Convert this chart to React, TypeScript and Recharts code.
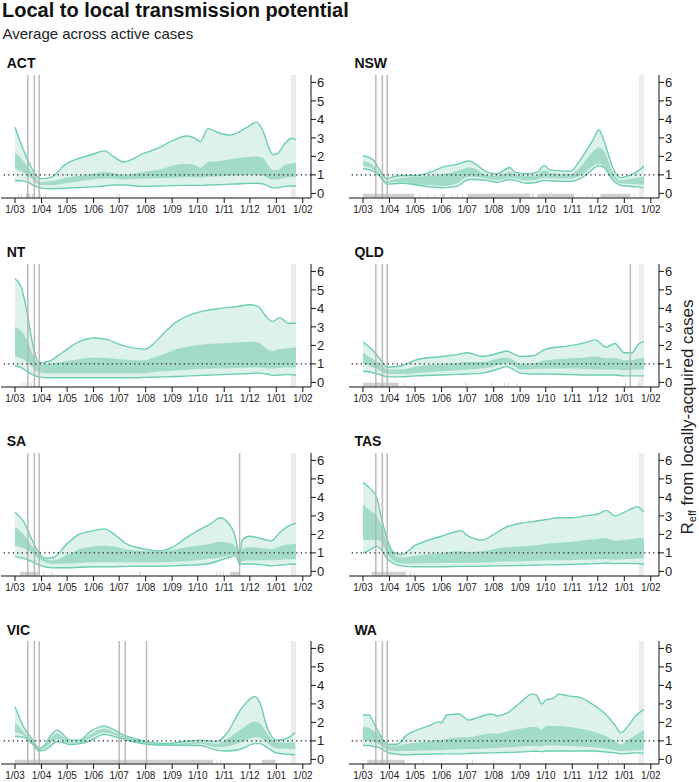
import React from 'react';
import { ComposedChart, Area, Line, XAxis, YAxis, ReferenceLine, ReferenceArea } from 'recharts';

const FONT = '"Liberation Sans", Arial, Helvetica, sans-serif';

const monthTicks = [0, 31, 61, 92, 122, 153, 184, 214, 245, 275, 306, 337];
const monthLabels = ['1/03', '1/04', '1/05', '1/06', '1/07', '1/08', '1/09', '1/10', '1/11', '1/12', '1/01', '1/02'];
const yTicks = [0, 1, 2, 3, 4, 5, 6];

const stateNames = ['ACT', 'NSW', 'NT', 'QLD', 'SA', 'TAS', 'VIC', 'WA'];

// rows: [day since 1 Mar, lower 90%, lower 50%, upper 50%, upper 90%]
const ACT = [
  [0, 0.7, 1.35, 2.2, 3.58], [7, 0.68, 1.2, 1.9, 2.7], [14, 0.62, 1.0, 1.5, 1.9], [21, 0.45, 0.75, 1.1, 1.24],
  [29, 0.3, 0.45, 0.6, 0.8], [41, 0.25, 0.45, 0.65, 0.85], [60, 0.28, 0.55, 0.85, 1.6], [75, 0.32, 0.65, 0.95, 1.9],
  [90, 0.35, 0.75, 1.05, 2.1], [105, 0.4, 0.8, 1.15, 2.3], [115, 0.45, 0.8, 1.1, 2.0], [127, 0.45, 0.75, 1.0, 1.7],
  [150, 0.38, 0.8, 1.15, 2.15], [170, 0.4, 0.82, 1.3, 2.5], [185, 0.42, 0.85, 1.5, 2.86], [201, 0.43, 0.87, 1.6, 3.1],
  [210, 0.43, 0.87, 1.55, 3.0], [217, 0.43, 0.85, 1.4, 2.8], [226, 0.45, 0.9, 1.7, 3.5], [240, 0.47, 0.92, 1.75, 3.25],
  [252, 0.5, 0.95, 1.85, 3.15], [271, 0.53, 0.98, 1.95, 3.55], [283, 0.55, 1.0, 2.0, 3.85], [291, 0.5, 0.95, 1.9, 3.3],
  [297, 0.38, 0.8, 1.5, 2.5], [302, 0.3, 0.75, 1.25, 2.1], [307, 0.3, 0.75, 1.25, 2.15], [316, 0.38, 0.85, 1.55, 2.7],
  [324, 0.4, 0.88, 1.62, 2.98], [329, 0.4, 0.9, 1.65, 2.9],
];
const NSW = [
  [0, 1.33, 1.5, 1.75, 2.05], [12, 1.2, 1.3, 1.5, 1.8], [20, 0.9, 1.0, 1.1, 1.24], [28, 0.5, 0.55, 0.65, 0.8],
  [36, 0.52, 0.6, 0.75, 0.9], [47, 0.55, 0.62, 0.85, 0.97], [63, 0.45, 0.5, 0.9, 0.97], [79, 0.35, 0.45, 0.95, 1.15],
  [94, 0.3, 0.4, 1.05, 1.43], [110, 0.38, 0.55, 1.2, 1.57], [124, 0.75, 0.9, 1.4, 1.75], [130, 0.75, 0.9, 1.35, 1.64],
  [145, 0.7, 0.8, 1.0, 1.15], [157, 0.6, 0.72, 0.95, 1.06], [172, 0.75, 0.85, 1.15, 1.4], [178, 0.7, 0.8, 1.05, 1.15],
  [192, 0.55, 0.7, 0.95, 1.06], [204, 0.6, 0.75, 1.0, 1.15], [212, 0.7, 0.85, 1.25, 1.5], [219, 0.68, 0.82, 1.1, 1.26],
  [243, 0.65, 0.8, 1.05, 1.2], [254, 0.8, 0.95, 1.4, 1.78], [264, 1.1, 1.3, 2.0, 2.5], [270, 1.35, 1.5, 2.3, 2.95],
  [276, 1.5, 1.6, 2.5, 3.44], [282, 1.4, 1.45, 2.3, 2.87], [293, 0.7, 0.8, 1.1, 1.33], [301, 0.45, 0.55, 0.7, 0.85],
  [309, 0.4, 0.52, 0.75, 0.92], [320, 0.35, 0.5, 0.85, 1.15], [329, 0.3, 0.45, 0.9, 1.46],
];
const NT = [
  [0, 0.9, 1.4, 3.0, 5.6], [7, 0.8, 1.3, 2.8, 5.2], [14, 0.6, 1.1, 2.3, 3.8], [21, 0.4, 0.8, 1.5, 2.0],
  [28, 0.3, 0.55, 0.95, 1.05], [40, 0.25, 0.5, 1.0, 1.15], [55, 0.25, 0.5, 1.1, 1.6], [75, 0.25, 0.5, 1.25, 2.2],
  [92, 0.25, 0.5, 1.35, 2.4], [110, 0.25, 0.5, 1.3, 2.3], [122, 0.25, 0.5, 1.25, 2.05], [140, 0.25, 0.5, 1.2, 1.85],
  [153, 0.27, 0.5, 1.2, 1.8], [160, 0.28, 0.55, 1.3, 2.0], [175, 0.3, 0.6, 1.55, 2.7], [190, 0.32, 0.65, 1.8, 3.3],
  [205, 0.35, 0.7, 1.95, 3.65], [220, 0.38, 0.72, 2.05, 3.85], [240, 0.42, 0.75, 2.1, 4.0], [260, 0.45, 0.78, 2.15, 4.1],
  [275, 0.48, 0.8, 2.2, 4.2], [285, 0.5, 0.8, 2.15, 4.1], [295, 0.45, 0.75, 1.8, 3.5], [302, 0.38, 0.75, 1.7, 3.3],
  [310, 0.4, 0.78, 1.8, 3.5], [320, 0.42, 0.8, 1.85, 3.2], [329, 0.4, 0.8, 1.9, 3.2],
];
const QLD = [
  [0, 0.6, 1.0, 1.6, 2.2], [10, 0.55, 0.85, 1.3, 1.8], [21, 0.4, 0.6, 0.95, 1.2], [28, 0.3, 0.45, 0.7, 0.82],
  [45, 0.3, 0.45, 0.7, 0.9], [61, 0.35, 0.5, 0.85, 1.2], [92, 0.4, 0.6, 1.0, 1.4], [110, 0.43, 0.65, 1.05, 1.5],
  [122, 0.45, 0.7, 1.1, 1.6], [140, 0.5, 0.75, 1.1, 1.4], [160, 0.75, 0.95, 1.3, 1.6], [168, 0.85, 1.05, 1.35, 1.7],
  [176, 0.7, 0.9, 1.2, 1.55], [184, 0.5, 0.7, 1.0, 1.4], [200, 0.45, 0.72, 1.05, 1.45], [214, 0.45, 0.75, 1.2, 1.8],
  [245, 0.42, 0.75, 1.3, 2.0], [260, 0.4, 0.72, 1.35, 2.15], [272, 0.4, 0.7, 1.4, 2.3], [285, 0.4, 0.7, 1.3, 1.9],
  [295, 0.4, 0.7, 1.3, 2.1], [306, 0.35, 0.65, 1.2, 1.6], [315, 0.35, 0.68, 1.2, 1.6], [322, 0.35, 0.7, 1.28, 2.05],
  [329, 0.35, 0.7, 1.3, 2.2],
];
const SA = [
  [0, 0.8, 1.4, 2.4, 3.2], [10, 0.7, 1.25, 2.0, 2.7], [21, 0.5, 0.95, 1.3, 1.6], [28, 0.35, 0.65, 0.9, 1.0],
  [35, 0.25, 0.5, 0.7, 0.72], [45, 0.2, 0.4, 0.6, 0.75], [61, 0.2, 0.42, 0.9, 1.5], [75, 0.22, 0.45, 1.2, 2.0],
  [92, 0.25, 0.5, 1.35, 2.2], [105, 0.25, 0.5, 1.4, 2.3], [115, 0.25, 0.5, 1.35, 2.05], [130, 0.27, 0.5, 1.2, 1.5],
  [153, 0.28, 0.5, 1.1, 1.2], [168, 0.28, 0.5, 1.05, 1.1], [184, 0.3, 0.52, 1.15, 1.3], [200, 0.33, 0.55, 1.3, 1.8],
  [214, 0.36, 0.6, 1.4, 2.2], [230, 0.45, 0.68, 1.5, 2.6], [240, 0.6, 0.75, 1.6, 2.9], [250, 0.75, 0.85, 1.55, 2.6],
  [257, 0.85, 0.9, 1.4, 2.0], [261, 0.6, 0.7, 1.1, 1.2], [263, 0.35, 0.45, 0.75, 0.85], [266, 0.4, 0.55, 1.2, 1.7],
  [275, 0.4, 0.6, 1.3, 1.9], [290, 0.35, 0.6, 1.25, 1.75], [300, 0.3, 0.6, 1.2, 1.65], [310, 0.33, 0.62, 1.35, 2.1],
  [320, 0.38, 0.65, 1.45, 2.45], [329, 0.4, 0.65, 1.5, 2.6],
];
const TAS = [
  [0, 1.0, 1.7, 3.6, 4.8], [8, 1.15, 1.7, 3.3, 4.5], [16, 1.35, 1.7, 3.0, 4.0], [21, 1.2, 1.6, 2.6, 3.0],
  [28, 0.7, 1.0, 1.6, 1.8], [35, 0.45, 0.6, 1.0, 1.05], [45, 0.3, 0.42, 0.75, 0.9], [61, 0.25, 0.42, 0.85, 1.4],
  [92, 0.25, 0.45, 1.0, 1.9], [115, 0.27, 0.47, 1.1, 2.2], [122, 0.27, 0.47, 1.05, 1.95], [140, 0.28, 0.48, 1.1, 1.7],
  [153, 0.3, 0.5, 1.2, 2.0], [168, 0.3, 0.53, 1.3, 2.4], [184, 0.32, 0.55, 1.35, 2.6], [200, 0.33, 0.57, 1.4, 2.7],
  [214, 0.35, 0.6, 1.5, 2.8], [230, 0.36, 0.6, 1.55, 2.9], [245, 0.38, 0.62, 1.6, 2.9], [260, 0.4, 0.63, 1.7, 3.0],
  [275, 0.42, 0.65, 1.75, 3.1], [285, 0.45, 0.65, 1.8, 3.3], [295, 0.42, 0.63, 1.65, 3.0], [306, 0.43, 0.65, 1.7, 3.2],
  [315, 0.42, 0.68, 1.75, 3.4], [321, 0.42, 0.7, 1.8, 3.5], [329, 0.4, 0.7, 1.8, 3.2],
];
const VIC = [
  [0, 1.25, 1.5, 2.0, 2.85], [10, 1.2, 1.3, 1.5, 1.76], [21, 0.8, 0.85, 0.95, 1.04], [28, 0.45, 0.5, 0.55, 0.6],
  [35, 0.5, 0.6, 0.7, 0.78], [41, 0.7, 0.85, 1.1, 1.23], [49, 0.95, 1.1, 1.4, 1.58], [57, 0.9, 1.0, 1.2, 1.32],
  [64, 0.8, 0.85, 0.95, 1.04], [76, 0.85, 0.9, 1.0, 1.04], [88, 1.0, 1.15, 1.35, 1.5], [104, 1.35, 1.45, 1.65, 1.8],
  [115, 1.25, 1.35, 1.5, 1.62], [127, 1.1, 1.15, 1.25, 1.32], [139, 0.95, 1.0, 1.1, 1.14], [154, 0.82, 0.85, 0.9, 0.96],
  [178, 0.76, 0.78, 0.82, 0.86], [201, 0.76, 0.82, 0.9, 0.98], [217, 0.75, 0.85, 0.95, 1.04], [236, 0.5, 0.65, 0.85, 0.96],
  [248, 0.45, 0.7, 1.1, 1.41], [264, 0.55, 0.9, 1.6, 2.67], [281, 0.85, 1.2, 2.05, 3.39], [287, 0.85, 1.18, 1.95, 3.03],
  [295, 0.65, 0.9, 1.4, 1.76], [306, 0.35, 0.6, 0.95, 1.04], [318, 0.28, 0.58, 0.9, 1.13], [328, 0.25, 0.55, 0.9, 1.44],
];
const WA = [
  [0, 0.75, 1.05, 1.75, 2.4], [7, 0.75, 1.0, 1.7, 2.4], [12, 0.7, 0.95, 1.55, 2.03], [18, 0.65, 0.85, 1.35, 1.49],
  [24, 0.5, 0.65, 1.0, 1.04], [30, 0.35, 0.5, 0.75, 0.82], [40, 0.28, 0.45, 0.75, 0.82], [51, 0.25, 0.45, 0.85, 1.31],
  [63, 0.27, 0.47, 0.9, 1.58], [79, 0.28, 0.5, 1.0, 1.85], [88, 0.29, 0.5, 1.05, 2.03], [92, 0.29, 0.5, 1.05, 1.98],
  [98, 0.3, 0.52, 1.1, 2.4], [112, 0.3, 0.55, 1.2, 2.45], [124, 0.32, 0.56, 1.2, 2.13], [137, 0.34, 0.58, 1.3, 2.3],
  [149, 0.35, 0.6, 1.4, 2.45], [157, 0.36, 0.62, 1.4, 2.36], [168, 0.37, 0.65, 1.5, 2.49], [184, 0.4, 0.7, 1.65, 3.06],
  [198, 0.43, 0.72, 1.75, 3.53], [203, 0.44, 0.72, 1.75, 3.48], [209, 0.42, 0.7, 1.6, 2.99], [215, 0.45, 0.75, 1.8, 3.24],
  [223, 0.45, 0.75, 1.8, 3.3], [229, 0.45, 0.75, 1.8, 3.53], [242, 0.45, 0.72, 1.75, 3.42], [254, 0.45, 0.7, 1.65, 3.35],
  [270, 0.45, 0.65, 1.5, 2.94], [285, 0.4, 0.58, 1.25, 2.4], [295, 0.35, 0.5, 1.0, 1.85], [302, 0.3, 0.45, 0.8, 1.44],
  [309, 0.32, 0.47, 1.0, 1.73], [319, 0.35, 0.5, 1.3, 2.34], [329, 0.35, 0.5, 1.6, 2.7],
];

// rug of case dates: [start day, end day]
const ACT_RUG = [[4, 4.7], [7, 7.7], [13, 14], [15, 16.5], [17, 18], [20, 21], [29, 29.7], [35, 35.7], [119, 119.7], [122, 122.7]];
const NSW_RUG = [[0, 60], [66, 66.7], [75, 75.7], [84, 84.7], [93, 96], [104, 104.7], [110, 110.7], [116, 116.7], [122, 196], [198, 200], [204, 247], [262, 262.7], [268, 268.7], [278, 313], [317, 317.7]];
const NT_RUG = [[8, 8.7], [12, 12.7], [16, 16.7], [19, 19.7], [23, 23.7], [27, 27.7]];
const QLD_RUG = [[0, 42], [48, 48.7], [60, 60.7], [120, 120.7], [150, 150.7], [165, 165.7], [170, 170.7], [180, 180.7], [307, 308], [322, 322.7]];
const SA_RUG = [[6, 27], [33, 33.7], [43, 43.7], [146, 147], [236, 236.7], [240, 240.7], [244, 244.7], [252, 263]];
const TAS_RUG = [[10, 50], [55, 55.7], [60, 60.7]];
const VIC_RUG = [[0, 232], [236, 236.7], [240, 240.7], [289, 305]];
const WA_RUG = [[5, 49], [70, 70.7], [128, 128.7], [153, 153.7], [287, 287.7], [299, 299.7], [303, 303.7]];

const MARCH_LINES = [15, 22.7, 28.3];
const QLD_LINES = [15, 22.7, 28.3, 313];
const SA_LINES = [15, 22.7, 28.3, 263];
const VIC_LINES = [15, 22.7, 28.3, 122, 129, 154];

const GREY_BAND = [323, 329];

const SERIES = [ACT, NSW, NT, QLD, SA, TAS, VIC, WA];
const RUGS = [ACT_RUG, NSW_RUG, NT_RUG, QLD_RUG, SA_RUG, TAS_RUG, VIC_RUG, WA_RUG];
const VLINES = [MARCH_LINES, MARCH_LINES, MARCH_LINES, QLD_LINES, SA_LINES, MARCH_LINES, VIC_LINES, MARCH_LINES];

const LIGHT = '#dcf2ea';
const MID = '#a2dcc6';
const LINE = '#6ccfad';

const ROW_H = 188.8;
const COL_W = 347.7;

function Panel({ rows, rug, vlines, left, top }: any) {
  const data = rows.map((r: number[]) => ({ day: r[0], outer: [r[1], r[4]], inner: [r[2], r[3]], lo: r[1], hi: r[4] }));
  return (
    <div style={{ position: 'absolute', left, top }}>
      <ComposedChart width={345} height={154} data={data} margin={{ top: 5, right: 0, bottom: 0, left: 1 }}>
        <XAxis
          dataKey="day"
          type="number"
          domain={[-16.4, 346.6]}
          ticks={monthTicks}
          interval={0}
          tickFormatter={(v: number) => monthLabels[monthTicks.indexOf(v)]}
          tickSize={5}
          tickMargin={3}
          height={26}
          stroke="#111"
          tick={{ fontSize: 10, fill: '#222', fontFamily: FONT }}
          allowDataOverflow
        />
        <YAxis
          orientation="right"
          type="number"
          domain={[-0.25, 6.4]}
          ticks={yTicks}
          interval={0}
          width={34}
          tickSize={5}
          tickMargin={1}
          stroke="#111"
          tick={{ fontSize: 13, fill: '#222', fontFamily: FONT }}
          allowDataOverflow
        />
        <ReferenceArea x1={GREY_BAND[0]} x2={GREY_BAND[1]} y1={-0.25} y2={6.4} fill="#ececec" fillOpacity={1} stroke="none" />
        {rug.map((r: number[], i: number) => (
          <ReferenceArea key={'r' + i} x1={r[0]} x2={r[1]} y1={-0.22} y2={-0.02} fill="#aaaaaa" fillOpacity={r[1] - r[0] > 1.5 ? 0.55 : 0.8} stroke="none" />
        ))}
        <Area type="monotone" dataKey="outer" stroke="none" fill={LIGHT} fillOpacity={1} isAnimationActive={false} />
        <Area type="monotone" dataKey="inner" stroke="none" fill={MID} fillOpacity={1} isAnimationActive={false} />
        <Line type="monotone" dataKey="hi" stroke={LINE} strokeWidth={1.4} dot={false} isAnimationActive={false} />
        <Line type="monotone" dataKey="lo" stroke={LINE} strokeWidth={1.4} dot={false} isAnimationActive={false} />
        {vlines.map((d: number, i: number) => (
          <ReferenceLine key={'v' + i} x={d} stroke="#b3b3b3" strokeWidth={1.5} strokeOpacity={0.9} />
        ))}
        <ReferenceLine y={1} stroke="#222" strokeWidth={1.3} strokeDasharray="1.3 3.2" />
      </ComposedChart>
    </div>
  );
}

export default function App() {
  return (
    <div style={{ position: 'absolute', left: 0, top: 0, width: 699, height: 782, background: '#fff', fontFamily: FONT }}>
      {stateNames.map((name, i) => {
        const col = i % 2;
        const row = Math.floor(i / 2);
        return (
          <Panel key={name} rows={SERIES[i]} rug={RUGS[i]} vlines={VLINES[i]} left={col * COL_W} top={70 + row * ROW_H} />
        );
      })}
      <svg width={699} height={782} style={{ position: 'absolute', left: 0, top: 0, pointerEvents: 'none' }}>
        <text x={2} y={17} fontSize={20} fontWeight="bold" fill="#111" fontFamily={FONT}>Local to local transmission potential</text>
        <text x={2.5} y={38.5} fontSize={15} fill="#222" fontFamily={FONT}>Average across active cases</text>
        {stateNames.map((name, i) => {
          const col = i % 2;
          const row = Math.floor(i / 2);
          return (
            <text key={name} x={6.7 + col * COL_W} y={68.3 + row * ROW_H} fontSize={14} fontWeight="bold" fill="#111" fontFamily={FONT}>{name}</text>
          );
        })}
        <text transform="translate(693, 417) rotate(-90)" textAnchor="middle" fontSize={17} fill="#222" fontFamily={FONT}>
          R<tspan fontSize={11} dy={2.5}>eff</tspan><tspan dy={-2.5}> from locally-acquired cases</tspan>
        </text>
      </svg>
    </div>
  );
}
